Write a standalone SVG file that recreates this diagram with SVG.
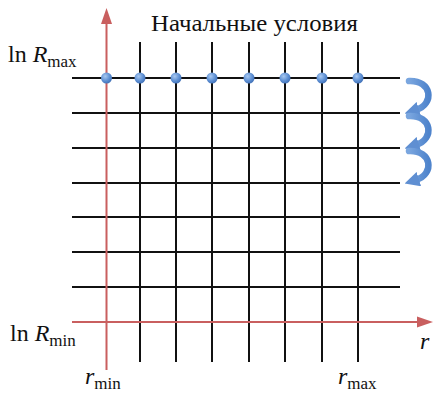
<svg xmlns="http://www.w3.org/2000/svg" width="433" height="399" viewBox="0 0 433 399">
<style>
.grid line{stroke:#111;stroke-width:2}
.axis{stroke:#c95f5f;stroke-width:2;fill:none}
.ah{fill:#c95f5f}
text{font-family:'Liberation Serif','DejaVu Serif','Times New Roman',serif;fill:#111}
.curl{fill:none;stroke:url(#bg);stroke-width:6.5;stroke-linecap:round}
</style>
<defs>
<radialGradient id="dot" cx="0.38" cy="0.35" r="0.7">
<stop offset="0" stop-color="#a8c8f0"/>
<stop offset="0.6" stop-color="#5d8fd3"/>
<stop offset="1" stop-color="#3f6fb5"/>
</radialGradient>
<linearGradient id="bg" x1="0" y1="0" x2="1" y2="0">
<stop offset="0" stop-color="#7aa6df"/>
<stop offset="1" stop-color="#4f84cc"/>
</linearGradient>
<marker id="bh" viewBox="0 0 10 10" refX="2" refY="5" markerWidth="2.3" markerHeight="2.3" orient="auto" markerUnits="strokeWidth">
<path d="M0,0 L10,5 L0,10 Z" fill="#5f8fd2"/>
</marker>
</defs>
<g id="grid" class="grid">
<line x1="72" y1="78" x2="400" y2="78"/>
<line x1="72" y1="113" x2="400" y2="113"/>
<line x1="72" y1="148" x2="400" y2="148"/>
<line x1="72" y1="183" x2="400" y2="183"/>
<line x1="72" y1="217" x2="400" y2="217"/>
<line x1="72" y1="252" x2="400" y2="252"/>
<line x1="72" y1="287" x2="400" y2="287"/>
<line x1="140" y1="42" x2="140" y2="362"/>
<line x1="176" y1="42" x2="176" y2="362"/>
<line x1="212" y1="42" x2="212" y2="362"/>
<line x1="249" y1="42" x2="249" y2="362"/>
<line x1="285" y1="42" x2="285" y2="362"/>
<line x1="322" y1="42" x2="322" y2="362"/>
<line x1="358" y1="42" x2="358" y2="362"/>
</g>
<g id="axes">
<line class="axis" x1="106.5" y1="370" x2="106.5" y2="22"/>
<polygon class="ah" points="106.5,8 101,24 112,24"/>
<line class="axis" x1="72" y1="322" x2="420" y2="322"/>
<polygon class="ah" points="433,322 417,316.5 417,327.5"/>
</g>
<g id="dots" fill="url(#dot)">
<circle cx="106.5" cy="78" r="5.5"/>
<circle cx="140" cy="78" r="5.5"/>
<circle cx="176" cy="78" r="5.5"/>
<circle cx="212" cy="78" r="5.5"/>
<circle cx="249" cy="78" r="5.5"/>
<circle cx="285" cy="78" r="5.5"/>
<circle cx="322" cy="78" r="5.5"/>
<circle cx="358" cy="78" r="5.5"/>
</g>
<g id="connectors">
<path class="curl" d="M409,81 C432,80 435,104 416,110" marker-end="url(#bh)"/>
<path class="curl" d="M409,116 C432,115 435,139 416,145" marker-end="url(#bh)"/>
<path class="curl" d="M409,151 C432,150 435,174 416,180" marker-end="url(#bh)"/>
</g>
<g id="labels">
<text x="151" y="31" font-size="23" textLength="207" lengthAdjust="spacingAndGlyphs">Начальные условия</text>
<text x="8" y="62" font-size="24">ln <tspan font-style="italic">R</tspan><tspan font-size="17" dy="5">max</tspan></text>
<text x="10" y="341" font-size="24">ln <tspan font-style="italic">R</tspan><tspan font-size="17" dy="5">min</tspan></text>
<text x="420" y="349" font-size="24" font-style="italic">r</text>
<text x="85" y="384" font-size="24"><tspan font-style="italic">r</tspan><tspan font-size="17" dy="5">min</tspan></text>
<text x="338" y="384" font-size="24"><tspan font-style="italic">r</tspan><tspan font-size="17" dy="5">max</tspan></text>
</g>
</svg>
